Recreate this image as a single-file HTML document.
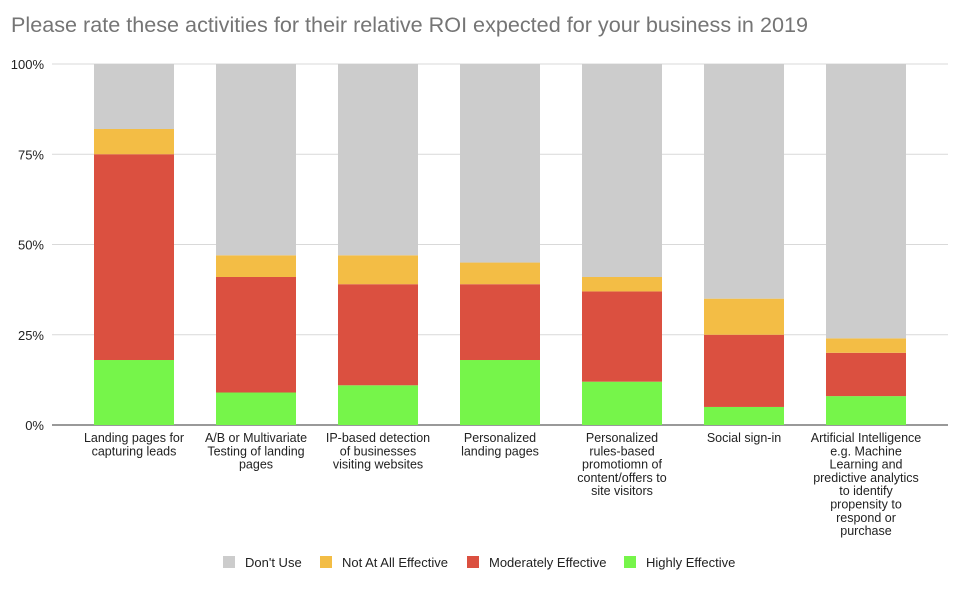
<!DOCTYPE html>
<html><head><meta charset="utf-8"><style>
body{margin:0;background:#fff;}
svg text{font-family:"Liberation Sans",Arial,sans-serif;}
</style></head><body>
<svg id="chart" width="958" height="590" xmlns="http://www.w3.org/2000/svg">
<rect width="958" height="590" fill="#fff"/>
<text x="11" y="32" font-size="21.6" fill="#757575">Please rate these activities for their relative ROI expected for your business in 2019</text>
<g id="grid"></g><g id="bars"></g><g id="xlabels"></g>
<g id="legend"></g>
</svg>
<script>
const categories=[["Landing pages for","capturing leads"],["A/B or Multivariate","Testing of landing","pages"],["IP-based detection","of businesses","visiting websites"],["Personalized","landing pages"],["Personalized","rules-based","promotiomn of","content/offers to","site visitors"],["Social sign-in"],["Artificial Intelligence","e.g. Machine","Learning and","predictive analytics","to identify","propensity to","respond or","purchase"]];
const highly=[18,9,11,18,12,5,8];
const moderately=[57,32,28,21,25,20,12];
const notAtAll=[7,6,8,6,4,10,4];
const dontUse=[18,53,53,55,59,65,76];
const yTicks=[0,25,50,75,100];
const tickLabels=["0%","25%","50%","75%","100%"];
const seriesNames=["Don't Use","Not At All Effective","Moderately Effective","Highly Effective"];
const colors={h:"#76f54a",m:"#db5040",n:"#f3bd45",d:"#cccccc"};
const NS="http://www.w3.org/2000/svg";
const y0=425,y1=64,plotL=73,step=122,bw=80;
const yS=v=>y0-(v/100)*(y0-y1);
const xC=i=>plotL+step*i+step/2;
function mk(t,a,p){const e=document.createElementNS(NS,t);for(const k in a)e.setAttribute(k,a[k]);p.appendChild(e);return e;}
const grid=document.getElementById('grid');
yTicks.forEach((t,i)=>{
 const l=mk('line',{x1:52,x2:948,y1:yS(t),y2:yS(t),stroke:i==0?"#333":"#d9d9d9","stroke-width":1},grid);
 
 
 const tx=mk('text',{x:44,y:yS(t)+5,"text-anchor":"end","font-size":13,fill:"#222"},grid);
 tx.textContent=tickLabels[i];
 
 
});
const bars=document.getElementById('bars');
categories.forEach((c,i)=>{
 let acc=0;
 [[highly,'h','highly'],[moderately,'m','moderately'],[notAtAll,'n','not-at-all'],[dontUse,'d','dont-use']].forEach(([arr,k,nm])=>{
  const v=arr[i];
  const r=mk('rect',{x:xC(i)-bw/2,y:yS(acc+v),width:bw,height:yS(acc)-yS(acc+v),fill:colors[k]},bars);
  
  
  acc+=v;
 });
 const t=mk('text',{x:xC(i),y:442,"text-anchor":"middle","font-size":12.5,fill:"#222"},document.getElementById('xlabels'));
 
 
 c.forEach((line,j)=>{const s=mk('tspan',{x:xC(i),dy:j?13.3:0},t);s.textContent=line;});
});
const lg=document.getElementById('legend');
const lx=[223,320,467,624],lc=[colors.d,colors.n,colors.m,colors.h];
seriesNames.forEach((n,i)=>{
 const r=mk('rect',{x:lx[i],y:556,width:12,height:12,fill:lc[i]},lg);
 
 
 const t=mk('text',{x:lx[i]+22,y:567,"font-size":13,fill:"#222"},lg);
 t.textContent=n;
 
 
});
</script>
</body></html>
